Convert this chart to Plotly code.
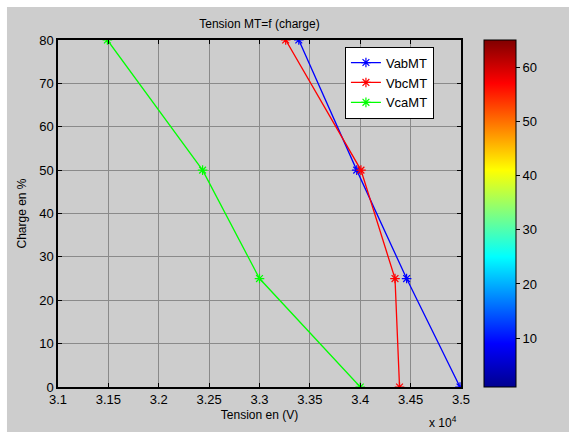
import plotly.graph_objects as go

# Load levels (%) and line-to-line MV voltages (V)
charge = [0, 25, 50, 80]
vab_mt = [34990, 34460, 33965, 33390]
vbc_mt = [34390, 34345, 34007, 33260]
vca_mt = [34000, 33000, 32435, 31490]

x_ticks = [31000, 31500, 32000, 32500, 33000, 33500, 34000, 34500, 35000]
x_tick_labels = ["3.1", "3.15", "3.2", "3.25", "3.3", "3.35", "3.4", "3.45", "3.5"]
y_ticks = [0, 10, 20, 30, 40, 50, 60, 70, 80]
cbar_ticks = [10, 20, 30, 40, 50, 60]
cbar_range = [1, 65]

FONT = "Liberation Sans, Arial, sans-serif"

jet = [
    [0.0, "rgb(0,0,143)"],
    [0.125, "rgb(0,0,255)"],
    [0.375, "rgb(0,255,255)"],
    [0.625, "rgb(255,255,0)"],
    [0.875, "rgb(255,0,0)"],
    [1.0, "rgb(128,0,0)"],
]

fig = go.Figure()

series = [("VabMT", vab_mt, "#0000ff"), ("VbcMT", vbc_mt, "#ff0000"), ("VcaMT", vca_mt, "#00ff00")]
for name, vals, col in series:
    fig.add_trace(go.Scatter(
        x=vals, y=charge, name=name, mode="lines+markers",
        line=dict(color=col, width=1.3),
        marker=dict(symbol="asterisk-open", size=8, color=col, line=dict(color=col, width=1.2)),
    ))

# Colour scale bar
fig.add_trace(go.Scatter(
    x=[x_ticks[0], x_ticks[0]], y=[0, 0], mode="markers", showlegend=False, hoverinfo="skip",
    marker=dict(size=0.1, opacity=0, color=cbar_range, cmin=cbar_range[0], cmax=cbar_range[1],
                colorscale=jet, showscale=True,
                colorbar=dict(x=1.057, xanchor="left", y=0.5, yanchor="middle", len=1.0,
                              thickness=32, thicknessmode="pixels", xpad=0, ypad=0,
                              outlinecolor="black", outlinewidth=1,
                              tickvals=cbar_ticks, ticks="outside", ticklen=4,
                              tickcolor="black",
                              tickfont=dict(family=FONT, size=13, color="black"))),
))

# Gray figure background behind the axes
fig.add_shape(type="rect", xref="paper", yref="paper", x0=-0.1266, x1=1.3, y0=-0.2, y1=1.0951,
              fillcolor="#cdcdcd", line=dict(width=0), layer="below")

fig.add_annotation(text="x 10<sup>4</sup>", xref="paper", yref="paper", x=0.955, y=-0.1,
                   xanchor="center", yanchor="middle", showarrow=False,
                   font=dict(family=FONT, size=12, color="black"))

axis_common = dict(showline=True, linecolor="black", linewidth=1.5, mirror="ticks",
                   ticks="inside", ticklen=4, tickcolor="black",
                   showgrid=True, gridcolor="#8a8a8a", gridwidth=1, zeroline=False,
                   tickfont=dict(family=FONT, size=13, color="black"))

fig.update_xaxes(range=[31000, 35000], tickvals=x_ticks, ticktext=x_tick_labels,
                 title=dict(text="Tension en (V)", standoff=4,
                            font=dict(family=FONT, size=12, color="black")),
                 **axis_common)
fig.update_yaxes(range=[0, 80], tickvals=y_ticks,
                 title=dict(text="Charge en %", standoff=10,
                            font=dict(family=FONT, size=12, color="black")),
                 **axis_common)

fig.update_layout(
    width=569, height=432,
    margin=dict(l=58, r=108, t=40, b=45),
    paper_bgcolor="white", plot_bgcolor="white",
    title=dict(text="Tension MT=f (charge)", x=0.456, xanchor="center", y=0.945, yanchor="middle",
               font=dict(family=FONT, size=12, color="black")),
    legend=dict(x=0.712, xanchor="left", y=0.981, yanchor="top", bgcolor="white",
                bordercolor="black", borderwidth=1,
                font=dict(family=FONT, size=13, color="black"), tracegroupgap=0),
    showlegend=True,
)

fig.write_html("out.html")
